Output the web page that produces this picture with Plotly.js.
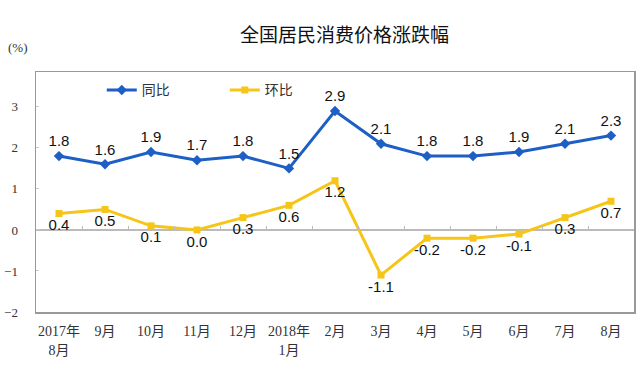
<!DOCTYPE html>
<html><head><meta charset="utf-8">
<script src="https://cdn.plot.ly/plotly-3.0.1.min.js"></script>
<style>body{margin:0;background:#fff}#c{width:638px;height:371px}</style>
</head><body><div id="c"></div>
<script>
const months = ["2017年<br>8月","9月","10月","11月","12月","2018年<br>1月","2月","3月","4月","5月","6月","7月","8月"];
const yoy = [1.8,1.6,1.9,1.7,1.8,1.5,2.9,2.1,1.8,1.8,1.9,2.1,2.3];
const mom = [0.4,0.5,0.1,0.0,0.3,0.6,1.2,-1.1,-0.2,-0.2,-0.1,0.3,0.7];
const idx = months.map((_, i) => i);
const blue = "#1d5fc4", yellow = "#f5c518";
const labelFont = {family: "Liberation Sans, Arial", size: 15, color: "#111"};
const traces = [
  {x: idx, y: yoy, name: "同比", mode: "lines+markers+text", text: yoy.map(v => v.toFixed(1)),
   textposition: "top center", textfont: labelFont,
   line: {color: blue, width: 3}, marker: {symbol: "diamond", size: 8, color: blue}},
  {x: idx, y: mom, name: "环比", mode: "lines+markers+text", text: mom.map(v => v.toFixed(1)),
   textposition: "bottom center", textfont: labelFont,
   line: {color: yellow, width: 3}, marker: {symbol: "square", size: 7, color: yellow}},
  {x: idx.slice(0, -1).map(v => v + 0.5), y: idx.slice(0, -1).map(() => 0), xaxis: "x2", mode: "none",
   showlegend: false, hoverinfo: "skip"}
];
const layout = {
  width: 638, height: 371,
  margin: {l: 36, r: 4, t: 72, b: 59},
  paper_bgcolor: "#fff", plot_bgcolor: "#fff",
  title: {text: "全国居民消费价格涨跌幅", x: 0.54, xanchor: "center", y: 0.905, yanchor: "middle",
          font: {family: "Noto Sans CJK SC", size: 19, color: "#111"}},
  showlegend: true,
  legend: {orientation: "h", x: 0.11, y: 0.99, xanchor: "left", yanchor: "top",
           font: {family: "Noto Sans CJK SC", size: 14, color: "#333"},
           entrywidth: 78, entrywidthmode: "pixels",
           traceorder: "normal", bgcolor: "rgba(0,0,0,0)"},
  xaxis: {range: [-0.5, 12.5], tickvals: idx, ticktext: months, showgrid: false, zeroline: false,
          showline: true, mirror: true, linecolor: "#999", linewidth: 1.5, ticks: "",
          ticklabelstandoff: 6,
          tickfont: {family: "Liberation Serif, Noto Sans CJK SC", size: 14, color: "#333"}},
  xaxis2: {overlaying: "x", range: [-0.5, 12.5], anchor: "free", position: 2 / 5.85, side: "top",
           tickvals: idx.slice(0, -1).map(v => v + 0.5), showticklabels: false, ticks: "outside",
           ticklen: 4, tickcolor: "#bbb", showline: false, showgrid: false, zeroline: false},
  yaxis: {range: [-2, 3.85], tickvals: [-2, -1, 0, 1, 2, 3], showgrid: false,
          zeroline: true, zerolinecolor: "#bbb", zerolinewidth: 1.5,
          showline: true, mirror: true, linecolor: "#999", linewidth: 1.5,
          ticks: "inside", ticklen: 3, tickcolor: "#ccc", ticklabelstandoff: 14,
          tickfont: {family: "Liberation Serif", size: 13, color: "#333"}},
  annotations: [{text: "(%)", xref: "paper", yref: "paper", x: -0.03, y: 1.104, xanchor: "center", yanchor: "middle",
                 showarrow: false, font: {family: "Liberation Serif", size: 13, color: "#333"}}]
};
Plotly.newPlot("c", traces, layout, {displayModeBar: false, staticPlot: true});
</script></body></html>
